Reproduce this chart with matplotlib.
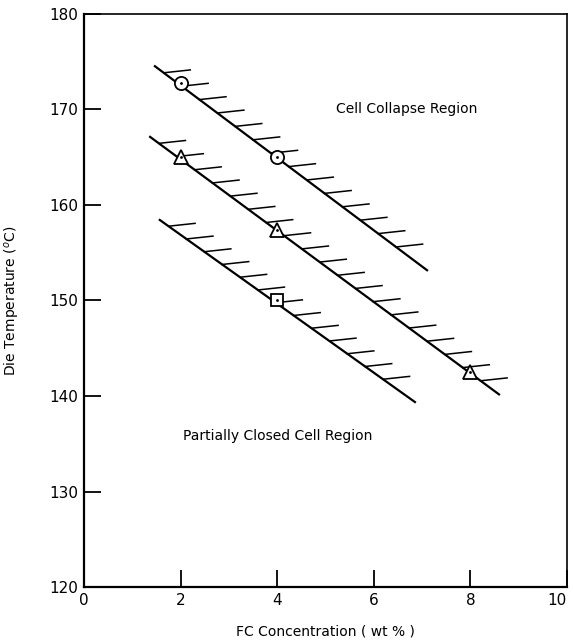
import numpy as np
import matplotlib
matplotlib.use("Agg")
import matplotlib.pyplot as plt

# measured points
fc_circle = [2, 4]
temp_circle = [172.8, 165.0]
fc_triangle = [2, 4, 8]
temp_triangle = [165.0, 157.4, 142.5]
fc_square = [4]
temp_square = [150.0]

# boundary line extents (x start/end, y start/end)
collapse_x = [1.45, 7.12]
collapse_y = [174.6, 153.1]
middle_x = [1.35, 8.61]
middle_y = [167.2, 140.1]
closed_x = [1.55, 6.87]
closed_y = [158.5, 139.3]

x_ticks = [0, 2, 4, 6, 8, 10]
y_ticks = [120, 130, 140, 150, 160, 170, 180]


def draw_boundary(ax, xs, ys, step=0.37, hlen=0.55, hrise=0.3):
    ax.plot(xs, ys, color="black", lw=1.6, solid_capstyle="butt", zorder=2)
    slope = (ys[1] - ys[0]) / (xs[1] - xs[0])
    for hx in np.arange(xs[0] + 0.2, xs[1] - 0.35, step):
        hy = ys[0] + slope * (hx - xs[0])
        ax.plot([hx, hx + hlen], [hy, hy + hrise], color="black", lw=1.1, zorder=2)


def draw_points(ax, xs, ys, marker, size):
    ax.plot(xs, ys, linestyle="none", marker=marker, markersize=size,
            markerfacecolor="white", markeredgecolor="black", markeredgewidth=1.3, zorder=3)
    ax.plot(xs, ys, linestyle="none", marker=".", markersize=2, color="black", zorder=4)


fig = plt.figure(figsize=(5.73, 6.44), dpi=100)
ax = fig.add_axes([0.1466, 0.0885, 0.843, 0.8898])

draw_boundary(ax, collapse_x, collapse_y)
draw_boundary(ax, middle_x, middle_y)
draw_boundary(ax, closed_x, closed_y)

draw_points(ax, fc_circle, temp_circle, "o", 9.5)
draw_points(ax, fc_triangle, temp_triangle, "^", 10.5)
draw_points(ax, fc_square, temp_square, "s", 8.5)

ax.text(6.67, 170, "Cell Collapse Region", ha="center", va="center", fontsize=10)
ax.text(4.0, 135.8, "Partially Closed Cell Region", ha="center", va="center", fontsize=10)

ax.set_xlim(0, 10)
ax.set_ylim(120, 180)
ax.set_xticks(x_ticks)
ax.set_yticks(y_ticks)
ax.tick_params(direction="in", length=12, width=1.3, labelsize=11, pad=4)
# keep the "10" inside the figure
ax.get_xticklabels()[-1].set_horizontalalignment("right")
ax.set_xlabel("FC Concentration ( wt % )", fontsize=10, labelpad=12)
ax.set_ylabel("Die Temperature ($^{o}$C)", fontsize=10, labelpad=20)

for side in ["left", "bottom"]:
    ax.spines[side].set_linewidth(1.6)
for side in ["top", "right"]:
    ax.spines[side].set_linewidth(1.2)

fig.savefig("out.png", dpi=100)
